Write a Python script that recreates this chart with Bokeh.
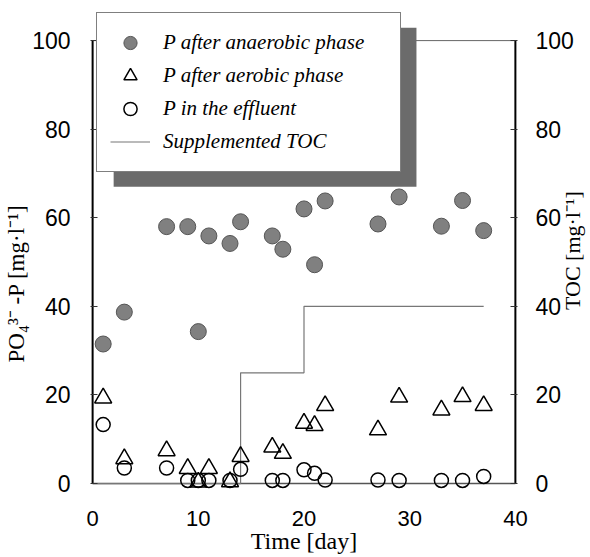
import math
from bokeh.plotting import figure
from bokeh.models import Range1d, LinearAxis, Legend, LegendItem, BoxAnnotation, FixedTicker
from bokeh.embed import file_html
from bokeh.resources import INLINE

# ---- data ----
days = [1, 3, 7, 9, 10, 11, 13, 14, 17, 18, 20, 21, 22, 27, 29, 33, 35, 37]
p_anaerobic = [31.5, 38.7, 58.0, 58.0, 34.3, 55.9, 54.2, 59.1, 55.9, 52.9,
               62.0, 49.4, 63.8, 58.6, 64.7, 58.1, 63.9, 57.1]
p_aerobic = [19.3, 5.6, 7.4, 3.4, 0.3, 3.4, 0.4, 6.1, 8.2, 6.8,
             13.6, 13.1, 17.6, 12.1, 19.5, 16.6, 19.6, 17.6]
p_effluent = [13.3, 3.5, 3.5, 0.7, 0.7, 0.7, 0.7, 3.2, 0.7, 0.7,
              3.1, 2.3, 0.8, 0.8, 0.7, 0.7, 0.7, 1.6]
toc_days = [0, 14, 20, 37]
toc_values = [0, 25, 40, 40]
x_ticks = [0, 10, 20, 30, 40]
y_ticks = [0, 20, 40, 60, 80, 100]
x_lim = (0, 40)
y_lim = (0, 100)
labels = ["P after anaerobic phase", "P after aerobic phase",
          "P in the effluent", "Supplemented TOC"]

TICK_FONT = "Liberation Sans"
SERIF = "Liberation Serif"

# the frame is a little larger than the axis box so that the legend
# (which sticks out above the box) and the markers on 0 are not clipped
x_rng = Range1d(-0.2, 40.2)
y_rng = Range1d(-1.8, 107.7)

p = figure(frame_width=427, frame_height=485,
           x_range=x_rng, y_range=y_rng,
           output_backend="svg", toolbar_location=None,
           min_border_left=90, min_border_top=6,
           min_border_right=0, min_border_bottom=0)
p.extra_y_ranges = {"toc": Range1d(-1.8, 107.7)}
p.xgrid.visible = False
p.ygrid.visible = False
p.outline_line_color = None
p.background_fill_color = "white"
p.border_fill_color = "white"

# axes
xa = p.xaxis[0]
xa.ticker = FixedTicker(ticks=x_ticks)
xa.axis_label = "Time [day]"
xa.major_tick_in = 0
xa.major_tick_out = 0
xa.major_label_standoff = 19
xa.axis_label_standoff = -1
xa.axis_line_color = None

ya = p.yaxis[0]
ya.ticker = FixedTicker(ticks=y_ticks)
ya.axis_label = "PO₄³⁻ -P [mg·l⁻¹]" + "\u00a0" * 12
ya.major_label_standoff = 20
ya.axis_label_standoff = 0

yr = LinearAxis(y_range_name="toc", ticker=FixedTicker(ticks=y_ticks))
yr.major_label_standoff = 18
yr.axis_label_standoff = -4
yr.axis_label_orientation = math.pi / 2
if "axis_label_align" in yr.properties():
    # label anchored at the bottom of the axis, lifted by leading spaces
    yr.axis_label_align = "start"
    yr.axis_label = "\u00a0" * 33 + "TOC [mg·l⁻¹]"
else:
    yr.axis_label = "TOC [mg·l⁻¹]"
p.add_layout(yr, "right")

for ax in (ya, yr):
    ax.major_tick_in = 7
    ax.major_tick_out = 0
    ax.major_tick_line_color = "#333333"
    ax.axis_line_color = None

for ax in (xa, ya, yr):
    ax.minor_tick_in = 0
    ax.minor_tick_out = 0
    ax.major_label_text_font = TICK_FONT
    ax.major_label_text_font_size = "23px"
    ax.major_label_text_color = "black"
    ax.axis_label_text_font = SERIF
    ax.axis_label_text_font_style = "normal"
    ax.axis_label_text_color = "black"
    ax.axis_label_text_font_size = "22px"
xa.major_label_text_font_size = "22px"
xa.axis_label_text_font_size = "24px"
ya.axis_label_text_font_size = "23px"

# axis box (left, right, top, bottom) from the axis limits
p.segment(x0=[x_lim[0], x_lim[1], x_lim[0], x_lim[0]],
          y0=[y_lim[0], y_lim[0], y_lim[1], y_lim[0]],
          x1=[x_lim[0], x_lim[1], x_lim[1], x_lim[1]],
          y1=[y_lim[1], y_lim[1], y_lim[1], y_lim[0]],
          line_color=["black", "black", "#666666", "#555555"],
          line_width=[2, 2, 1, 1.5])

# legend shadow (drawn before the legend)
shadow = BoxAnnotation(left=1.99, right=30.64, bottom=67.0, top=102.9,
                       fill_color="#6b6b6b", fill_alpha=1.0,
                       line_alpha=0)
p.add_layout(shadow)

# data
r_toc = p.step(toc_days, toc_values, mode="after", line_color="#777777",
               line_width=1.2, y_range_name="toc")
r_an = p.scatter(days, p_anaerobic, marker="circle", size=16,
                 fill_color="#808080", line_color="#555555", line_width=1)
r_ae = p.scatter(days, p_aerobic, marker="triangle", size=17,
                 fill_color=None, line_color="black", line_width=1.5)
r_ef = p.scatter(days, p_effluent, marker="circle", size=14,
                 fill_color=None, line_color="black", line_width=1.5)

legend = Legend(
    items=[LegendItem(label=labels[0], renderers=[r_an]),
           LegendItem(label=labels[1], renderers=[r_ae]),
           LegendItem(label=labels[2], renderers=[r_ef]),
           LegendItem(label=labels[3], renderers=[r_toc])],
    location=(6, 319), orientation="vertical",
    label_text_font=SERIF, label_text_font_style="italic",
    label_text_font_size="21px", label_text_color="black",
    glyph_width=40, glyph_height=33, label_height=33, label_width=224,
    label_standoff=13, padding=13, spacing=0, margin=0,
    border_line_color="black", border_line_width=1,
    background_fill_color="white", background_fill_alpha=1.0)
p.add_layout(legend)

open("out.html", "w").write(file_html(p, INLINE))
